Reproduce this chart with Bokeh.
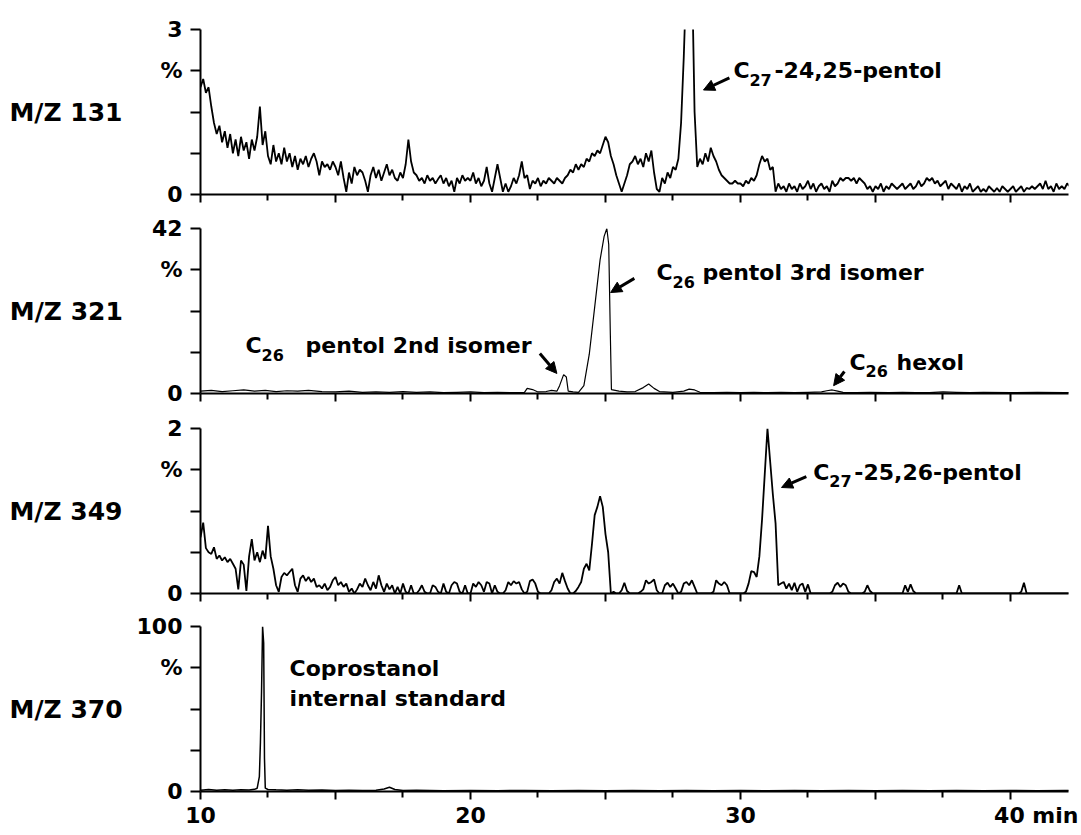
from bokeh.plotting import figure
from bokeh.layouts import column
from bokeh.models import FixedTicker, Label, Arrow, NormalHead, Range1d
from bokeh.embed import file_html
from bokeh.resources import INLINE

# ---------------- data ----------------
scan_start = 10.0      # min
scan_step = 0.1        # min

# M/Z 131 (% , full scale 3)
mz131 = [
    1.95, 2.1, 1.85, 1.95, 1.6, 1.3, 1.1, 1.25, 0.95, 1.15,
    0.85, 1.1, 0.75, 1.0, 0.7, 1.05, 0.8, 0.95, 0.65, 1.0,
    0.8, 1.05, 1.6, 0.9, 1.15, 0.7, 0.55, 0.9, 0.6, 0.75,
    0.55, 0.85, 0.6, 0.75, 0.5, 0.7, 0.45, 0.65, 0.55, 0.7,
    0.5, 0.65, 0.75, 0.6, 0.35, 0.6, 0.5, 0.55, 0.45, 0.6,
    0.5, 0.35, 0.6, 0.3, 0.05, 0.4, 0.2, 0.5, 0.35, 0.45,
    0.4, 0.25, 0.05, 0.35, 0.5, 0.3, 0.45, 0.25, 0.4, 0.55,
    0.35, 0.45, 0.3, 0.25, 0.4, 0.3, 0.55, 1.0, 0.6, 0.4,
    0.35, 0.25, 0.3, 0.2, 0.35, 0.25, 0.3, 0.2, 0.28, 0.35,
    0.2, 0.3, 0.15, 0.25, 0.05, 0.3, 0.2, 0.35, 0.25, 0.3,
    0.25, 0.4, 0.2, 0.3, 0.15, 0.25, 0.5, 0.2, 0.05, 0.3,
    0.55, 0.3, 0.05, 0.2, 0.05, 0.15, 0.3, 0.2, 0.35, 0.6,
    0.3, 0.35, 0.1, 0.25, 0.2, 0.3, 0.15, 0.25, 0.2, 0.3,
    0.25, 0.2, 0.3, 0.25, 0.2, 0.3, 0.35, 0.45, 0.4, 0.55,
    0.45, 0.55, 0.5, 0.65, 0.6, 0.75, 0.7, 0.8, 0.75, 0.9,
    1.05, 0.95, 0.7, 0.55, 0.35, 0.2, 0.05, 0.2, 0.35, 0.55,
    0.6, 0.7, 0.55, 0.65, 0.5, 0.75, 0.6, 0.8, 0.4, 0.1,
    0.05, 0.3, 0.2, 0.4, 0.3, 0.5, 0.45, 0.65, 1.3, 2.5,
    4.0, 5.0, 4.2, 1.5, 0.5, 0.65, 0.55, 0.75, 0.6, 0.85,
    0.7, 0.6, 0.45, 0.35, 0.3, 0.25, 0.2, 0.2, 0.25, 0.2,
    0.2, 0.15, 0.25, 0.2, 0.3, 0.25, 0.35, 0.55, 0.7, 0.6,
    0.65, 0.45, 0.5, 0.05, 0.2, 0.1, 0.15, 0.05, 0.2, 0.1,
    0.15, 0.05, 0.2, 0.1, 0.15, 0.25, 0.1, 0.2, 0.05, 0.15,
    0.2, 0.1, 0.15, 0.05, 0.25, 0.15, 0.2, 0.3, 0.25, 0.3,
    0.3, 0.25, 0.3, 0.2, 0.3, 0.25, 0.2, 0.1, 0.15, 0.05,
    0.15, 0.1, 0.2, 0.05, 0.15, 0.1, 0.2, 0.15, 0.1, 0.15,
    0.2, 0.1, 0.15, 0.2, 0.1, 0.15, 0.25, 0.15, 0.2, 0.3,
    0.25, 0.3, 0.2, 0.25, 0.15, 0.2, 0.25, 0.1, 0.2, 0.15,
    0.1, 0.2, 0.05, 0.15, 0.1, 0.2, 0.05, 0.1, 0.15, 0.05,
    0.1, 0.05, 0.15, 0.1, 0.05, 0.12, 0.05, 0.15, 0.1, 0.05,
    0.1, 0.15, 0.05, 0.1, 0.15, 0.05, 0.12, 0.1, 0.15, 0.1,
    0.15, 0.2, 0.1, 0.25, 0.1, 0.15, 0.05, 0.2, 0.1, 0.15,
    0.1, 0.2, 0.15, 0.2, 0.1,
]

# M/Z 349 (% , full scale 2)
mz349 = [
    0.68, 0.86, 0.55, 0.5, 0.48, 0.56, 0.42, 0.46, 0.4, 0.44,
    0.38, 0.42, 0.36, 0.3, 0.05, 0.4, 0.35, 0.03, 0.45, 0.66,
    0.4, 0.5, 0.38, 0.52, 0.42, 0.82, 0.45, 0.3, 0.1, 0.02,
    0.2, 0.25, 0.22, 0.26, 0.3, 0.1, 0.02, 0.18, 0.22, 0.15,
    0.2, 0.14, 0.18, 0.08, 0.1, 0.06, 0.12, 0.04, 0.08, 0.16,
    0.2, 0.1, 0.14, 0.08, 0.12, 0.02, 0.06, 0.0, 0.05, 0.12,
    0.08, 0.18, 0.1, 0.04, 0.14, 0.06, 0.22, 0.1, 0.02, 0.12,
    0.05, 0.1, 0.0, 0.08, 0.0, 0.12, 0.02, 0.0, 0.1, 0.0,
    0.0, 0.04, 0.1, 0.02, 0.0, 0.0, 0.1, 0.08, 0.02, 0.0,
    0.12, 0.02, 0.0, 0.1, 0.14, 0.12, 0.02, 0.0, 0.1, 0.0,
    0.0, 0.12, 0.08, 0.14, 0.1, 0.02, 0.14, 0.12, 0.0, 0.1,
    0.02, 0.0, 0.0, 0.04, 0.14, 0.1, 0.15, 0.12, 0.14, 0.05,
    0.0, 0.02, 0.15, 0.17, 0.12, 0.02, 0.0, 0.0, 0.0, 0.0,
    0.04, 0.14, 0.18, 0.12, 0.25, 0.15, 0.06, 0.0, 0.0, 0.03,
    0.08, 0.14, 0.3, 0.36, 0.28, 0.6, 0.95, 1.05, 1.18, 1.05,
    0.72, 0.5, 0.0, 0.02, 0.0, 0.0, 0.04, 0.13, 0.03, 0.0,
    0.0, 0.0, 0.0, 0.02, 0.05, 0.16, 0.12, 0.14, 0.17, 0.04,
    0.0, 0.0, 0.1, 0.13, 0.08, 0.12, 0.06, 0.0, 0.02, 0.12,
    0.14, 0.1, 0.16, 0.08, 0.0, 0.0, 0.0, 0.0, 0.0, 0.0,
    0.02, 0.16, 0.12, 0.1, 0.14, 0.1, 0.0, 0.0, 0.0, 0.0,
    0.0, 0.0, 0.02, 0.12, 0.27, 0.26, 0.2, 0.45, 0.9, 1.45,
    2.0, 1.6, 1.2, 0.85, 0.1, 0.12, 0.14, 0.06, 0.12, 0.04,
    0.13, 0.02, 0.1, 0.12, 0.02, 0.11, 0.0, 0.0, 0.0, 0.0,
    0.0, 0.0, 0.0, 0.0, 0.02, 0.1, 0.13, 0.08, 0.12, 0.1,
    0.02, 0.0, 0.0, 0.0, 0.0, 0.0, 0.02, 0.1, 0.03, 0.0,
    0.0, 0.0, 0.0, 0.0, 0.0, 0.0, 0.0, 0.0, 0.0, 0.0,
    0.0, 0.1, 0.02, 0.11, 0.03, 0.0, 0.0, 0.0, 0.0, 0.0,
    0.0, 0.0, 0.0, 0.0, 0.0, 0.0, 0.0, 0.0, 0.0, 0.0,
    0.0, 0.1, 0.0, 0.0, 0.0, 0.0, 0.0, 0.0, 0.0, 0.0,
    0.0, 0.0, 0.0, 0.0, 0.0, 0.0, 0.0, 0.0, 0.0, 0.0,
    0.0, 0.0, 0.0, 0.0, 0.02, 0.13, 0.0, 0.0, 0.0, 0.0,
    0.0, 0.0, 0.0, 0.0, 0.0, 0.0, 0.0, 0.0, 0.0, 0.0,
    0.0, 0.0, 0.0, 0.0, 0.0,
]

# M/Z 321 (% , full scale 42)
rt_321 = [10.0, 10.4, 10.8, 11.2, 11.6, 12.0, 12.4, 12.8, 13.2, 13.6, 14.0, 14.5,
          15.0, 15.5, 16.0, 16.5, 17.0, 17.5, 18.0, 18.5, 19.0, 19.5, 20.0, 20.5,
          21.0, 21.5, 22.0, 22.1, 22.3, 22.5, 22.8, 23.0, 23.2, 23.3, 23.45, 23.55,
          23.62, 23.8, 24.0, 24.2, 24.4, 24.6, 24.8, 24.95, 25.05, 25.12, 25.18, 25.22,
          25.5, 25.8, 26.1, 26.4, 26.6, 26.8, 27.0, 27.5, 27.9, 28.1, 28.3, 28.5,
          29.0, 29.5, 30.0, 30.5, 31.0, 31.5, 32.0, 32.5, 33.0, 33.2, 33.4, 33.6,
          33.8, 34.3, 34.8, 35.5, 36.0, 36.5, 37.0, 37.5, 38.0, 38.5, 39.0, 40.0,
          41.0, 42.0, 42.4]
mz321 = [0.6, 0.8, 0.5, 0.7, 0.9, 0.6, 0.8, 0.5, 0.7, 0.6, 0.8, 0.5,
         0.4, 0.6, 0.3, 0.4, 0.3, 0.5, 0.3, 0.4, 0.2, 0.3, 0.4, 0.2,
         0.3, 0.2, 0.3, 1.3, 1.0, 0.4, 0.5, 0.8, 0.6, 2.0, 4.8, 4.2,
         0.6, 0.4, 0.3, 2.0, 10.0, 22.0, 34.0, 40.0, 42.0, 38.0, 15.0, 1.0,
         0.6, 0.4, 0.5, 1.5, 2.4, 1.3, 0.5, 0.3, 0.6, 1.1, 0.9, 0.3,
         0.2, 0.3, 0.2, 0.3, 0.2, 0.3, 0.2, 0.3, 0.4, 0.7, 0.9, 0.6,
         0.3, 0.2, 0.3, 0.2, 0.3, 0.2, 0.2, 0.4, 0.3, 0.2, 0.3, 0.2,
         0.3, 0.2, 0.3]

# M/Z 370 (% , full scale 100)
rt_370 = [10.0, 10.3, 10.6, 10.9, 11.2, 11.5, 11.8, 12.0, 12.1, 12.18, 12.22, 12.26,
          12.3, 12.34, 12.37, 12.4, 12.5, 12.8, 13.2, 13.6, 14.0, 14.5, 15.0, 15.5,
          16.0, 16.5, 16.8, 17.0, 17.2, 17.5, 18.0, 19.0, 20.0, 21.0, 22.0, 23.0,
          24.0, 25.0, 26.0, 27.0, 28.0, 29.0, 30.0, 31.0, 32.0, 33.0, 34.0, 35.0,
          36.0, 37.0, 38.0, 39.0, 40.0, 41.0, 42.0, 42.4]
mz370 = [0.8, 1.2, 0.7, 1.0, 0.8, 1.1, 0.9, 1.3, 2.0, 9.0, 30.0, 60.0,
         100.0, 90.0, 20.0, 2.0, 1.2, 1.0, 0.8, 1.0, 0.7, 0.9, 0.6, 0.8,
         0.6, 0.8, 1.5, 2.6, 1.2, 0.6, 0.7, 0.5, 0.6, 0.5, 0.6, 0.5,
         0.6, 0.5, 0.6, 0.5, 0.6, 0.5, 0.6, 0.5, 0.6, 0.5, 0.6, 0.5,
         0.6, 0.5, 0.6, 0.5, 0.6, 0.5, 0.6, 0.5]

full_scale = {"131": 3, "321": 42, "349": 2, "370": 100}
x_tick_labels = {10: "10", 15: "", 20: "20", 25: "", 30: "30", 35: "",
                 40: "\u00a0" * 7 + "40 min"}

scan_rt = [round(scan_start + scan_step * i, 1) for i in range(len(mz131))]

FONT = "DejaVu Sans"


def txt(p, x, y, text, size=22, xo=0, yo=0, align="left", baseline="middle"):
    p.add_layout(Label(x=x, y=y, x_offset=xo, y_offset=yo, text=text,
                       text_font=FONT, text_font_size=f"{size}px",
                       text_font_style="bold", text_color="black",
                       text_align=align, text_baseline=baseline))


def chem(p, x, y, sub, rest, rest_dx):
    txt(p, x, y, "C")
    txt(p, x, y, sub, size=16, xo=16, yo=-9)
    txt(p, x, y, rest, xo=rest_dx)


def arrow(p, x0, y0, x1, y1):
    p.add_layout(Arrow(end=NormalHead(size=11, fill_color="black", line_color="black"),
                       x_start=x0, y_start=y0, x_end=x1, y_end=y1,
                       line_color="black", line_width=3))


def panel(rt, inten, key, top, bottom, label_standoff, last=False, lw=1.5):
    ymax = full_scale[key]
    p = figure(frame_width=868, frame_height=165,
               x_range=Range1d(10, 42.15), y_range=Range1d(0, ymax),
               output_backend="svg", toolbar_location=None,
               min_border_left=200, min_border_right=10,
               min_border_top=top, min_border_bottom=bottom,
               outline_line_color=None, border_fill_color="white")
    p.grid.visible = False
    p.line(rt, inten, line_color="black", line_width=lw)

    yticks = [0, ymax * 0.25, ymax * 0.5, ymax * 0.75, ymax]
    p.yaxis.ticker = FixedTicker(ticks=yticks, minor_ticks=[])
    p.yaxis.major_label_overrides = {yticks[0]: "0", yticks[1]: "", yticks[2]: "",
                                     yticks[3]: "%", yticks[4]: str(ymax)}
    p.yaxis.major_tick_out = 10
    p.yaxis.major_tick_in = 0
    p.yaxis.major_label_standoff = 8
    p.yaxis.axis_label = "M/Z " + key
    p.yaxis.axis_label_orientation = "horizontal"
    p.yaxis.axis_label_standoff = label_standoff
    p.yaxis.axis_label_text_font = FONT
    p.yaxis.axis_label_text_font_size = "25px"
    p.yaxis.axis_label_text_font_style = "bold"
    p.yaxis.axis_label_text_color = "black"

    p.xaxis.ticker = FixedTicker(ticks=[10, 15, 20, 25, 30, 35, 40],
                                 minor_ticks=[12.5, 17.5, 22.5, 27.5, 32.5, 37.5])
    p.xaxis.major_tick_out = 8
    p.xaxis.major_tick_in = 0
    p.xaxis.minor_tick_out = 6
    p.xaxis.minor_tick_in = 0

    for ax in (p.xaxis, p.yaxis):
        ax.axis_line_width = 2
        ax.axis_line_color = "black"
        ax.major_tick_line_width = 2
        ax.minor_tick_line_width = 2
        ax.major_tick_line_color = "black"
        ax.minor_tick_line_color = "black"
        ax.major_label_text_font = FONT
        ax.major_label_text_font_style = "bold"
        ax.major_label_text_color = "black"
        ax.major_label_text_font_size = "22px"

    if last:
        p.xaxis.major_label_overrides = x_tick_labels
        p.xaxis.major_label_standoff = 3
    else:
        p.xaxis.major_label_text_font_size = "1px"
        p.xaxis.major_label_text_color = None
        p.xaxis.major_label_standoff = 0
    return p


p1 = panel(scan_rt, mz131, "131", 29, 17, 35, lw=1.8)
chem(p1, 29.74, 2.25, "27", "-24,25-pentol", 41)
arrow(p1, 29.59, 2.12, 28.63, 1.90)

p2 = panel(rt_321, mz321, "321", 17, 17, 26, lw=1.2)
chem(p2, 26.89, 30.8, "26", "pentol 3rd isomer", 46)
arrow(p2, 26.07, 29.3, 25.19, 25.7)
chem(p2, 11.67, 12.2, "26", "pentol 2nd isomer", 60)
arrow(p2, 22.57, 10.2, 23.2, 5.1)
chem(p2, 34.04, 7.9, "26", "hexol", 47)
arrow(p2, 33.85, 5.6, 33.45, 2.0)

p3 = panel(scan_rt, mz349, "349", 18, 17, 35, lw=1.8)
chem(p3, 32.70, 1.467, "27", "-25,26-pentol", 41)
arrow(p3, 32.44, 1.418, 31.52, 1.285)

p4 = panel(rt_370, mz370, "370", 16, 34, 11, last=True, lw=1.5)
txt(p4, 13.30, 74.3, "Coprostanol")
txt(p4, 13.30, 56.3, "internal standard")

layout = column(p1, p2, p3, p4, spacing=0)

with open("out.html", "w") as f:
    f.write(file_html(layout, INLINE))
